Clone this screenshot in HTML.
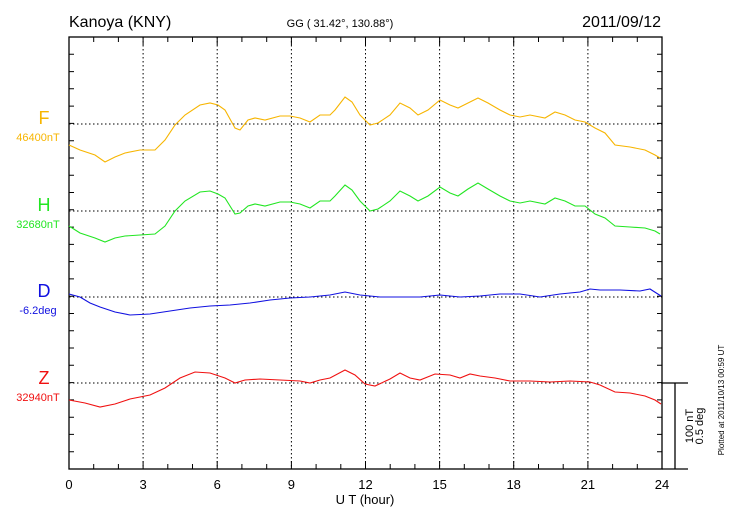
<!DOCTYPE html><html><head><style>body{margin:0;background:#fff}svg{display:block;font-family:"Liberation Sans",sans-serif}</style></head><body>
<svg width="730" height="520" viewBox="0 0 730 520">
<g stroke="#000" stroke-dasharray="1.5,2.5" stroke-width="1">
<line x1="143.1" y1="37" x2="143.1" y2="469"/><line x1="217.2" y1="37" x2="217.2" y2="469"/><line x1="291.4" y1="37" x2="291.4" y2="469"/><line x1="365.5" y1="37" x2="365.5" y2="469"/><line x1="439.6" y1="37" x2="439.6" y2="469"/><line x1="513.7" y1="37" x2="513.7" y2="469"/><line x1="587.9" y1="37" x2="587.9" y2="469"/>
<line x1="69" y1="124" x2="662" y2="124"/><line x1="69" y1="211" x2="662" y2="211"/><line x1="69" y1="297" x2="662" y2="297"/><line x1="69" y1="383" x2="662" y2="383"/>
</g>
<g stroke="#000" stroke-width="1.3" fill="none">
<rect x="69" y="37" width="593" height="432"/>
<line x1="662" y1="469" x2="688" y2="469"/><line x1="662" y1="383" x2="688" y2="383"/><line x1="675" y1="383" x2="675" y2="469"/>
</g>
<path stroke="#000" stroke-width="1" fill="none" d="
M93.7 37v5M118.4 37v5M143.1 37v8M167.8 37v5M192.5 37v5M217.2 37v8M241.9 37v5M266.7 37v5M291.4 37v8M316.1 37v5M340.8 37v5M365.5 37v8M390.2 37v5M414.9 37v5M439.6 37v8M464.3 37v5M489 37v5M513.7 37v8M538.5 37v5M563.2 37v5M587.9 37v8M612.6 37v5M637.3 37v5
M93.7 469v-5M118.4 469v-5M143.1 469v-8M167.8 469v-5M192.5 469v-5M217.2 469v-8M241.9 469v-5M266.7 469v-5M291.4 469v-8M316.1 469v-5M340.8 469v-5M365.5 469v-8M390.2 469v-5M414.9 469v-5M439.6 469v-8M464.3 469v-5M489 469v-5M513.7 469v-8M538.5 469v-5M563.2 469v-5M587.9 469v-8M612.6 469v-5M637.3 469v-5
M69 54.3h5M69 71.6h5M69 88.8h5M69 106.1h5M69 123.4h5M69 140.7h5M69 158h5M69 175.2h5M69 192.5h5M69 209.8h5M69 227.1h5M69 244.4h5M69 261.6h5M69 278.9h5M69 296.2h5M69 313.5h5M69 330.8h5M69 348h5M69 365.3h5M69 382.6h5M69 399.9h5M69 417.2h5M69 434.4h5M69 451.7h5
M662 54.3h-5M662 71.6h-5M662 88.8h-5M662 106.1h-5M662 123.4h-5M662 140.7h-5M662 158h-5M662 175.2h-5M662 192.5h-5M662 209.8h-5M662 227.1h-5M662 244.4h-5M662 261.6h-5M662 278.9h-5M662 296.2h-5M662 313.5h-5M662 330.8h-5M662 348h-5M662 365.3h-5M662 382.6h-5M662 399.9h-5M662 417.2h-5M662 434.4h-5M662 451.7h-5"/>
<g fill="none" stroke-width="1.1">
<polyline stroke="#f7b500" points="69,145 80,150 95,155 105,162 115,157 125,153 140,150 155,150 165,140 175,125 185,115 200,105 210,103 218,105 225,110 235,128 240,130 248,120 255,118 265,120 280,116 290,116 300,118 310,122 320,115 330,115 335,110 345,97 352,102 360,115 370,125 378,123 390,115 400,103 410,108 418,115 428,110 440,100 450,105 458,108 468,103 478,98 488,103 500,110 510,115 520,117 530,115 545,118 555,112 565,115 575,120 585,122 595,128 605,133 615,145 630,147 645,150 655,155 660,158"/>
<polyline stroke="#22e622" transform="translate(0,86)" points="69,140 80,147 95,152 105,156 115,152 125,150 140,149 155,148 165,140 175,125 185,115 200,106 210,105 218,108 225,112 235,128 240,127 248,120 255,118 265,120 280,116 290,116 300,118 310,122 320,115 330,115 335,110 345,99 352,104 360,115 370,125 378,123 390,115 400,105 410,110 418,115 428,110 440,101 450,107 458,110 468,103 478,97 488,103 500,110 510,115 520,117 530,115 545,118 555,112 565,115 575,120 585,120 595,128 605,132 615,140 630,141 645,142 655,145 660,148"/>
<polyline stroke="#1010e0" points="69,294 80,297 90,303 100,307 115,312 130,315 150,314 170,311 190,308 210,306 230,305 250,303 270,300 290,298 310,297 330,295 345,292 360,295 380,297 400,297 420,297 440,295 460,297 480,296 500,294 520,294 540,297 560,294 580,292 590,289 600,290 620,290 640,291 650,289 661,296"/>
<polyline stroke="#f01010" points="69,400 85,403 100,407 115,404 130,399 150,395 165,388 180,378 195,372 210,373 225,378 235,383 245,380 260,379 280,380 300,381 310,383 320,380 330,378 345,370 355,375 365,384 375,386 390,379 400,373 410,378 420,380 435,374 450,375 460,378 470,374 480,376 495,378 510,381 530,381 550,382 570,381 590,382 600,385 615,392 630,393 645,396 655,400 661,404"/>
</g>
<text x="69" y="27" font-size="16">Kanoya (KNY)</text>
<text x="340" y="27" font-size="11" text-anchor="middle">GG ( 31.42°, 130.88°)</text>
<text x="661" y="27" font-size="16" text-anchor="end">2011/09/12</text>
<g text-anchor="middle">
<text x="44" y="124" font-size="18" fill="#f7b500">F</text><text x="38" y="141" font-size="11" fill="#f7b500">46400nT</text>
<text x="44" y="211" font-size="18" fill="#22e622">H</text><text x="38" y="228" font-size="11" fill="#22e622">32680nT</text>
<text x="44" y="297" font-size="18" fill="#1010e0">D</text><text x="38" y="314" font-size="11" fill="#1010e0">-6.2deg</text>
<text x="44" y="384" font-size="18" fill="#f01010">Z</text><text x="38" y="401" font-size="11" fill="#f01010">32940nT</text>
<g font-size="13"><text x="69" y="489">0</text><text x="143.1" y="489">3</text><text x="217.2" y="489">6</text><text x="291.4" y="489">9</text><text x="365.5" y="489">12</text><text x="439.6" y="489">15</text><text x="513.7" y="489">18</text><text x="587.9" y="489">21</text><text x="662" y="489">24</text></g>
<text x="365" y="504" font-size="13">U T (hour)</text>
<text transform="translate(693,426) rotate(-90)" font-size="11">100 nT</text>
<text transform="translate(703,426) rotate(-90)" font-size="11">0.5 deg</text>
<text transform="translate(724,400) rotate(-90)" font-size="8">Plotted at 2011/10/13 00:59 UT</text>
</g>
</svg></body></html>
